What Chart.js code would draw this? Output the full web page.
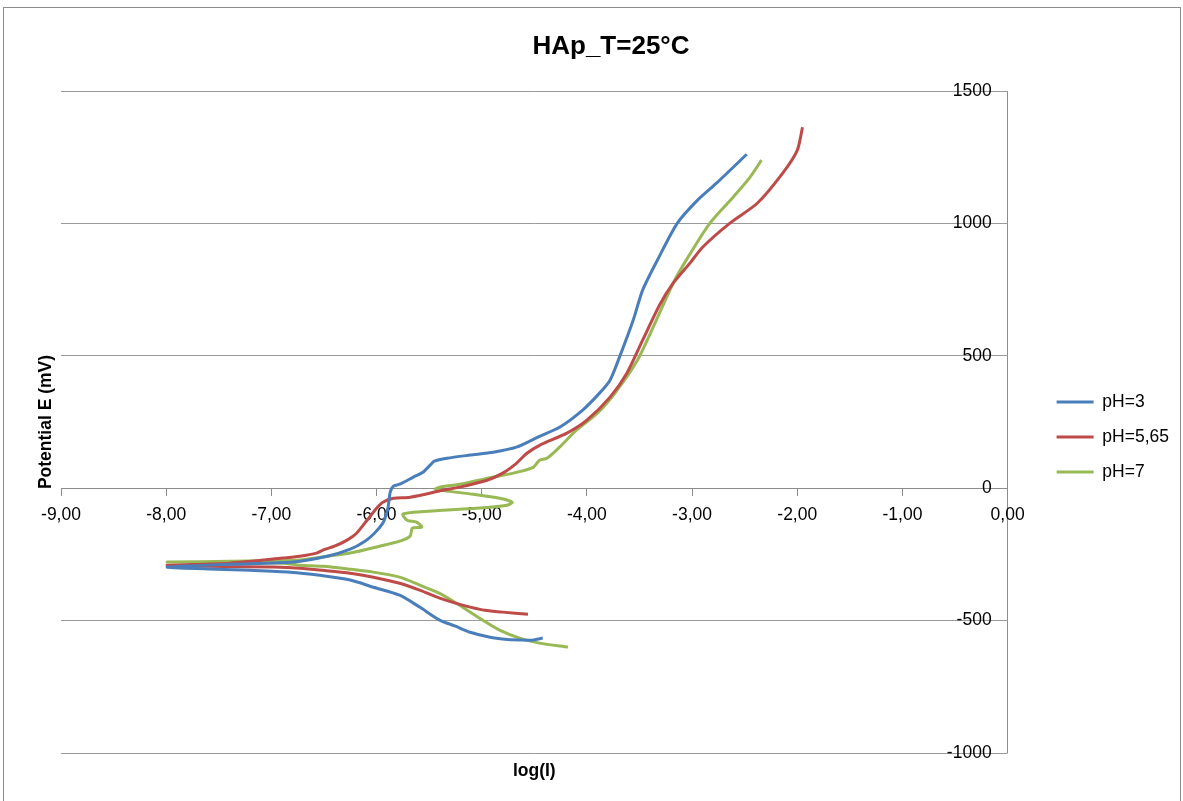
<!DOCTYPE html>
<html>
<head>
<meta charset="utf-8">
<title>HAp_T=25°C</title>
<script src="https://cdn.jsdelivr.net/npm/chart.js@4.4.1/dist/chart.umd.min.js"></script>
<style>
    html, body {
        margin: 0;
        padding: 0;
        background: #fff;
        overflow: hidden;
    }
    #frame {
        position: absolute;
        left: 3px;
        top: 7px;
        width: 1176px;
        height: 800px;
        border: 1px solid #8c8c8c;
    }
    #polar-chart {
        position: absolute;
        left: 0;
        top: 0;
    }
</style>
</head>
<body>
<div id="frame"></div>
<canvas id="polar-chart" width="1183" height="801"></canvas>

<script>
// Polarisation curves, scan order: cathodic end -> Ecorr -> anodic end
const seriesNames = ['pH=3', 'pH=5,65', 'pH=7'];
const seriesColors = ['#4a7ebb', '#be4b48', '#98b954'];

const logI_pH3 = [-4.42, -4.52, -4.64, -4.78, -4.92, -5.11, -5.25, -5.40, -5.59, -5.78, -6.03, -6.25, -6.54, -6.82, -7.20, -7.52, -7.99,
    -7.39, -6.79, -6.47, -6.25, -6.11, -6.02, -5.94, -5.91, -5.89, -5.87, -5.84, -5.78, -5.65, -5.56, -5.49, -5.45, -5.33, -5.11,
    -4.89, -4.67, -4.45, -4.26, -4.04, -3.88, -3.78, -3.69, -3.56, -3.47, -3.33, -3.14, -2.95, -2.76, -2.48];
const E_pH3 = [-566, -574, -573, -570, -563, -544, -521, -498, -449, -404, -374, -347, -329, -317, -310, -306, -298,
    -287, -279, -257, -230, -200, -170, -132, -102, -72, -15, 8, 15, 42, 60, 87, 102, 113, 125,
    136, 155, 196, 230, 295, 359, 408, 495, 634, 748, 861, 1001, 1087, 1155, 1261];

const logI_pH565 = [-4.56, -4.80, -4.97, -5.11, -5.25, -5.40, -5.59, -5.78, -6.03, -6.25, -6.51, -6.73, -6.98, -7.61, -7.99,
    -7.39, -6.89, -6.73, -6.57, -6.51, -6.40, -6.28, -6.19, -6.09, -6.00, -5.94, -5.84, -5.68, -5.37, -5.21, -4.95, -4.80,
    -4.67, -4.57, -4.45, -4.19, -4.00, -3.78, -3.62, -3.47, -3.31, -3.18, -3.02, -2.90, -2.64, -2.38, -2.14, -2.00, -1.95];
const E_pH565 = [-476, -468, -461, -449, -434, -415, -385, -359, -336, -321, -310, -302, -298, -295, -291,
    -283, -264, -257, -245, -234, -219, -196, -170, -121, -76, -53, -38, -34, -8, 4, 30, 57,
    94, 132, 162, 208, 257, 344, 434, 559, 691, 774, 850, 910, 1001, 1076, 1189, 1276, 1363];

const logI_pH7 = [-4.18, -4.45, -4.64, -4.83, -5.02, -5.21, -5.40, -5.59, -5.78, -6.03, -6.25, -6.51, -6.73, -6.89, -7.61, -7.99,
    -7.39, -6.76, -6.47, -6.25, -5.97, -5.78, -5.68, -5.66, -5.57, -5.62, -5.71, -5.75, -5.65, -5.37, -5.05, -4.76, -4.71,
    -4.83, -5.08, -5.33, -5.44, -5.40, -5.21, -4.89, -4.70, -4.51, -4.45, -4.38, -4.26, -4.10, -3.90, -3.72, -3.52, -3.37,
    -3.18, -3.05, -2.83, -2.61, -2.45, -2.34];
const E_pH7 = [-600, -585, -566, -536, -491, -442, -397, -366, -336, -317, -306, -295, -291, -283, -279, -279,
    -276, -272, -257, -245, -219, -200, -181, -151, -147, -128, -121, -98, -91, -83, -76, -64, -53,
    -38, -23, -11, -4, 4, 15, 42, 57, 79, 106, 113, 155, 219, 283, 366, 483, 608,
    774, 865, 1001, 1099, 1174, 1239];

const xAxisRange = [-9, 0];
const yAxisRange = [-1000, 1500];
const xStep = 1;
const yStep = 500;

const fontFamily = "'Liberation Sans', Arial, sans-serif";
const gridGray = '#9a9a9a';
const axisGray = '#8c8c8c';

Chart.defaults.font.family = fontFamily;
Chart.defaults.color = '#000';

function toPoints(xs, ys) {
    return xs.map((x, i) => ({ x: x, y: ys[i] }));
}

const curves = [
    toPoints(logI_pH3, E_pH3),
    toPoints(logI_pH565, E_pH565),
    toPoints(logI_pH7, E_pH7)
];

const datasets = curves.map((points, i) => ({
    label: seriesNames[i],
    data: points,
    showLine: true,
    borderColor: seriesColors[i],
    backgroundColor: seriesColors[i],
    borderWidth: 3,
    pointRadius: 0,
    tension: 0.25,
    fill: false
}));

// scales that only hold space or an axis title
const blankScale = {
    type: 'linear',
    grid: { display: false, drawTicks: false },
    border: { display: false },
    ticks: { display: false }
};

const ctx = document.getElementById('polar-chart').getContext('2d');
window.polarChart = new Chart(ctx, {
    type: 'scatter',
    data: { datasets: datasets },
    options: {
        responsive: false,
        animation: false,
        layout: {
            padding: { left: 43, right: 4, top: 0, bottom: 0 }
        },
        plugins: {
            tooltip: { enabled: false },
            title: {
                display: true,
                text: 'HAp_T=25°C',
                color: '#000',
                font: { size: 26, weight: 'bold' },
                padding: { top: 31, bottom: 28.8 }
            },
            legend: {
                position: 'right',
                // empty title only pushes the entries down a bit
                title: {
                    display: true,
                    text: '',
                    font: { size: 10 },
                    padding: { top: 61, bottom: 0 }
                },
                labels: {
                    boxWidth: 37,
                    boxHeight: 3,
                    padding: 17.5,
                    color: '#000',
                    font: { size: 17.5 },
                    generateLabels: (chart) => {
                        const items = Chart.defaults.plugins.legend.labels.generateLabels(chart);
                        items.forEach(item => { item.lineWidth = 0; });
                        return items;
                    }
                }
            }
        },
        scales: {
            x: {
                type: 'linear',
                position: { y: 0 },
                min: xAxisRange[0],
                max: xAxisRange[1],
                ticks: {
                    stepSize: xStep,
                    padding: 9,
                    color: '#000',
                    font: { size: 17.5 },
                    callback: (value) => value.toFixed(2).replace('.', ',')
                },
                grid: {
                    // only the vertical line at 0 is drawn across the plot
                    color: (c) => (c.tick && c.tick.value === 0 ? axisGray : 'rgba(0,0,0,0)'),
                    tickColor: axisGray,
                    drawTicks: true,
                    tickLength: 7
                },
                border: { color: axisGray }
            },
            y: {
                type: 'linear',
                // labels sit just left of the vertical axis at log(I) = 0
                position: { x: -0.152 },
                min: yAxisRange[0],
                max: yAxisRange[1],
                ticks: {
                    stepSize: yStep,
                    padding: 0,
                    color: '#000',
                    font: { size: 17.5 },
                    callback: (value) => String(value)
                },
                grid: {
                    color: gridGray,
                    drawTicks: false
                },
                border: { display: false }
            },
            xTitle: {
                ...blankScale,
                position: 'bottom',
                title: {
                    display: true,
                    text: 'log(I)',
                    color: '#000',
                    font: { size: 17.5, weight: 'bold' },
                    padding: { top: 7.5, bottom: 19.5 }
                }
            },
            yTitle: {
                ...blankScale,
                position: 'left',
                afterFit: (scale) => { scale.width = 18; },
                title: {
                    display: true,
                    text: 'Potential E (mV)',
                    color: '#000',
                    font: { size: 17.5, weight: 'bold', lineHeight: 0.4 },
                    padding: 0
                }
            },
            // gap between the plot and the legend
            yGap: {
                ...blankScale,
                position: 'right',
                afterFit: (scale) => { scale.width = 31.5; }
            }
        }
    }
});
</script>
</body>
</html>
